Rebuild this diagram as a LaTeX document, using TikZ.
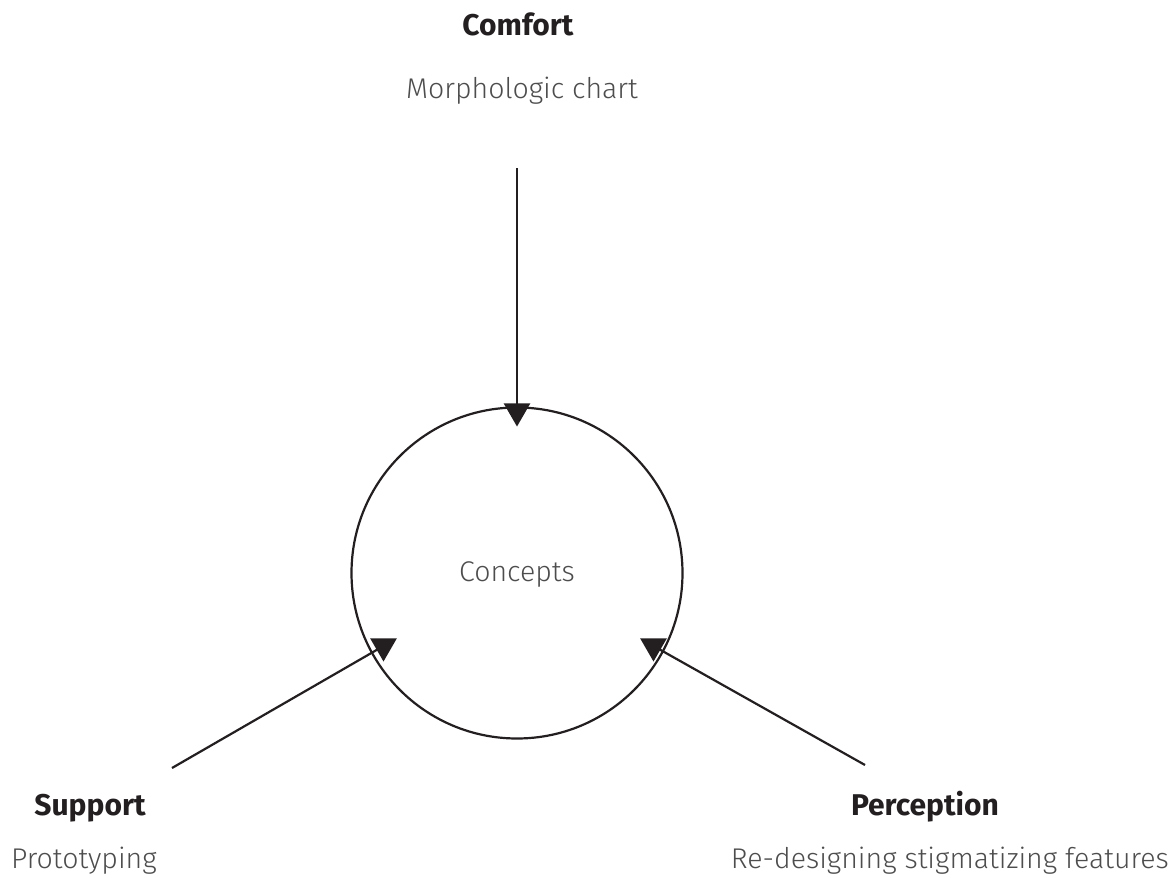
\documentclass[tikz,border=0pt]{standalone}
\usepackage{fontspec}
\setmainfont{Fira Sans}
\newfontfamily\lightfont{Fira Sans Light}
\newfontfamily\boldfont{Fira Sans Bold}
\usetikzlibrary{shapes.geometric}
\definecolor{lighttext}{HTML}{4D4D4D}
\definecolor{darktext}{HTML}{231F20}
\tikzset{
  lightlabel/.style={anchor=base, inner sep=0pt, text=lighttext, font=\lightfont\fontsize{28.5}{32}\selectfont},
  boldlabel/.style={anchor=base, inner sep=0pt, text=darktext, font=\boldfont\fontsize{30}{34}\selectfont},
  connector/.style={draw=darktext, line width=2.2pt},
  marker/.style={regular polygon, regular polygon sides=3, shape border rotate=180, fill=darktext, draw=none, inner sep=0pt, minimum size=31pt}
}
\begin{document}
\begin{tikzpicture}[x=1pt,y=-1pt]
\useasboundingbox (0,0) rectangle (1176,878);
% circle
\node[circle, draw=darktext, line width=2.2pt, minimum size=331pt, inner sep=0pt] (circ) at (517,573) {};
\node[lightlabel] (concepts) at (517,581) {Concepts};
% labels
\node[boldlabel] (comfort) at (518,35) {Comfort};
\node[lightlabel] (morph) at (522,98) {Morphologic chart};
\node[boldlabel] (support) at (90,815) {Support};
\node[lightlabel, anchor=base west] (proto) at (11,868) {Prototyping};
\node[boldlabel] (percep) at (925,815) {Perception};
\node[lightlabel, anchor=base east] (redesign) at (1169,868) {Re-designing stigmatizing features};
% connector ends
\coordinate (topstart) at (517,168);
\coordinate (leftstart) at (172,768);
\coordinate (rightstart) at (865,765);
\coordinate (topend) at (517,411);
\coordinate (leftend) at (383.5,646);
\coordinate (rightend) at (653.5,646);
\draw[connector] (topstart) -- (topend);
\draw[connector] (leftstart) -- (leftend);
\draw[connector] (rightstart) -- (rightend);
\node[marker] (mtop) at (topend) {};
\node[marker] (mleft) at (leftend) {};
\node[marker] (mright) at (rightend) {};
\end{tikzpicture}
\end{document}
